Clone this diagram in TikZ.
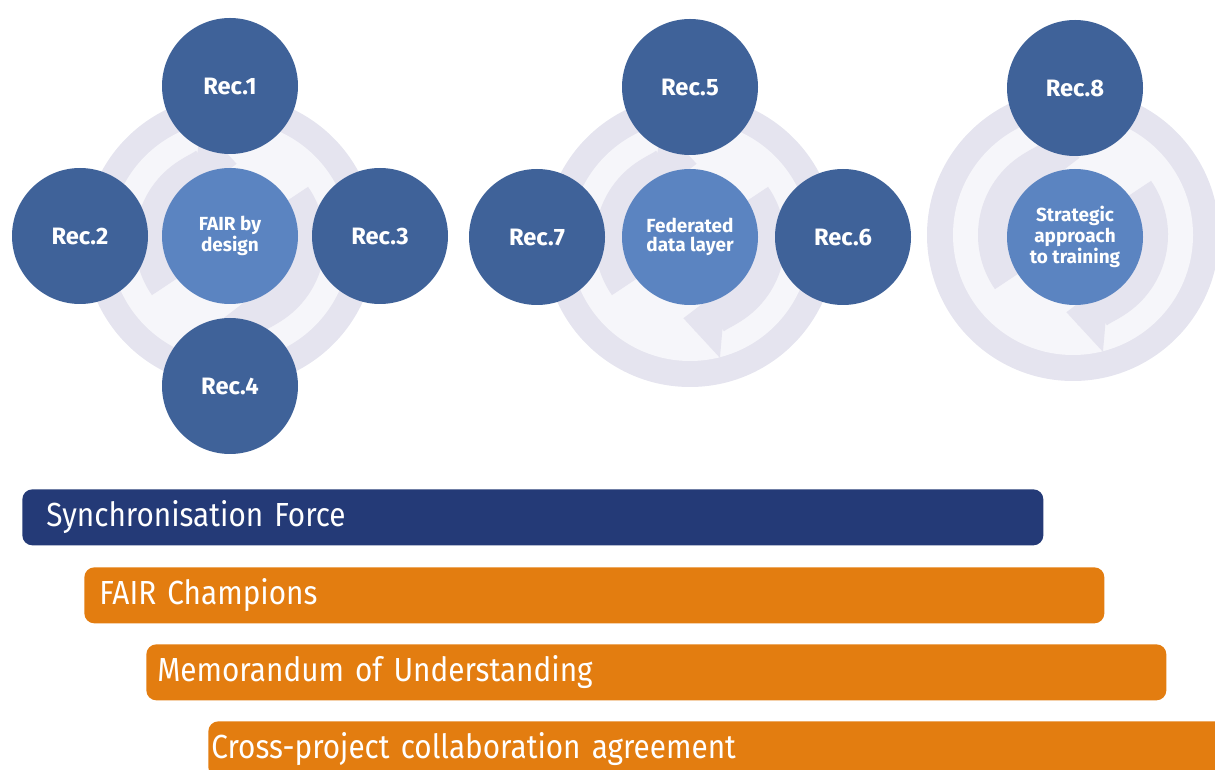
\documentclass[tikz,border=0pt]{standalone}
\usepackage{fontspec}
\setmainfont{Fira Sans}
\newfontfamily\barfont[FakeStretch=0.89]{Fira Sans}
\usetikzlibrary{positioning,arrows.meta}
\definecolor{recblue}{HTML}{3F6299}
\definecolor{coreblue}{HTML}{5B84C1}
\definecolor{syncnavy}{HTML}{243A77}
\definecolor{barorange}{HTML}{E37D10}
\definecolor{ringgray}{HTML}{E5E4EF}
\definecolor{ringwhite}{HTML}{F6F6FA}
\begin{document}
\begin{tikzpicture}[node distance=3cm,
  rec node/.style={circle,fill=recblue,text=white,minimum size=2.72cm,inner sep=0pt,font=\bfseries\fontsize{13.5}{15}\selectfont},
  core node/.style={circle,fill=coreblue,text=white,minimum size=2.72cm,inner sep=0pt,align=center,font=\bfseries\fontsize{10.8}{10.5}\selectfont},
  bar/.style={rounded corners=0.2cm,text=white,minimum height=1.12cm,inner ysep=0pt,anchor=north west,font=\barfont\fontsize{19}{21}\selectfont},
  sync arrow/.style={ringgray,line width=0.7cm,-{Triangle[width=1.4cm,length=0.8cm]}}]
  \path[use as bounding box,clip] (0,0) rectangle (24.3,15.38);

  % background rings
  \foreach \x/\y in {4.6/10.56, 13.8/10.56, 21.46/10.68} {
    \fill[ringgray] (\x,\y) circle (2.92);
    \fill[ringwhite] (\x,\y) circle (2.4);
    \draw[sync arrow] (\x,\y) ++(215:1.55) arc (215:85:1.55);
    \draw[sync arrow] (\x,\y) ++(35:1.55) arc (35:-95:1.55);
  }

  % first group
  \node[core node] (fair) at (4.6,10.66) {FAIR by\\design};
  \node[rec node] (r1) [above of=fair] {Rec.1};
  \node[rec node] (r2) [left of=fair] {Rec.2};
  \node[rec node] (r3) [right of=fair] {Rec.3};
  \node[rec node] (r4) [below of=fair] {Rec.4};

  % second group
  \node[core node] (fed) at (13.8,10.64) {Federated\\data layer};
  \node[rec node] (r5) [above of=fed] {Rec.5};
  \node[rec node] (r7) [left of=fed,node distance=3.06cm] {Rec.7};
  \node[rec node] (r6) [right of=fed,node distance=3.06cm] {Rec.6};

  % third group
  \node[core node] (train) at (21.5,10.64) {Strategic\\approach\\to training};
  \node[rec node] (r8) [above of=train,node distance=2.98cm] {Rec.8};

  % bars
  \node[bar,fill=syncnavy,inner xsep=0.48cm,text width=19.46cm] (sync) at (0.44,5.6) {Synchronisation Force};
  \node[bar,fill=barorange,inner xsep=0.3cm,text width=19.8cm] (champ) at (1.68,4.04) {FAIR Champions};
  \node[bar,fill=barorange,inner xsep=0.22cm,text width=19.96cm] (mou) at (2.92,2.5) {Memorandum of Understanding};
  \node[bar,fill=barorange,inner xsep=0.06cm,text width=20.28cm] (cross) at (4.16,0.96) {Cross-project collaboration agreement};
\end{tikzpicture}
\end{document}
